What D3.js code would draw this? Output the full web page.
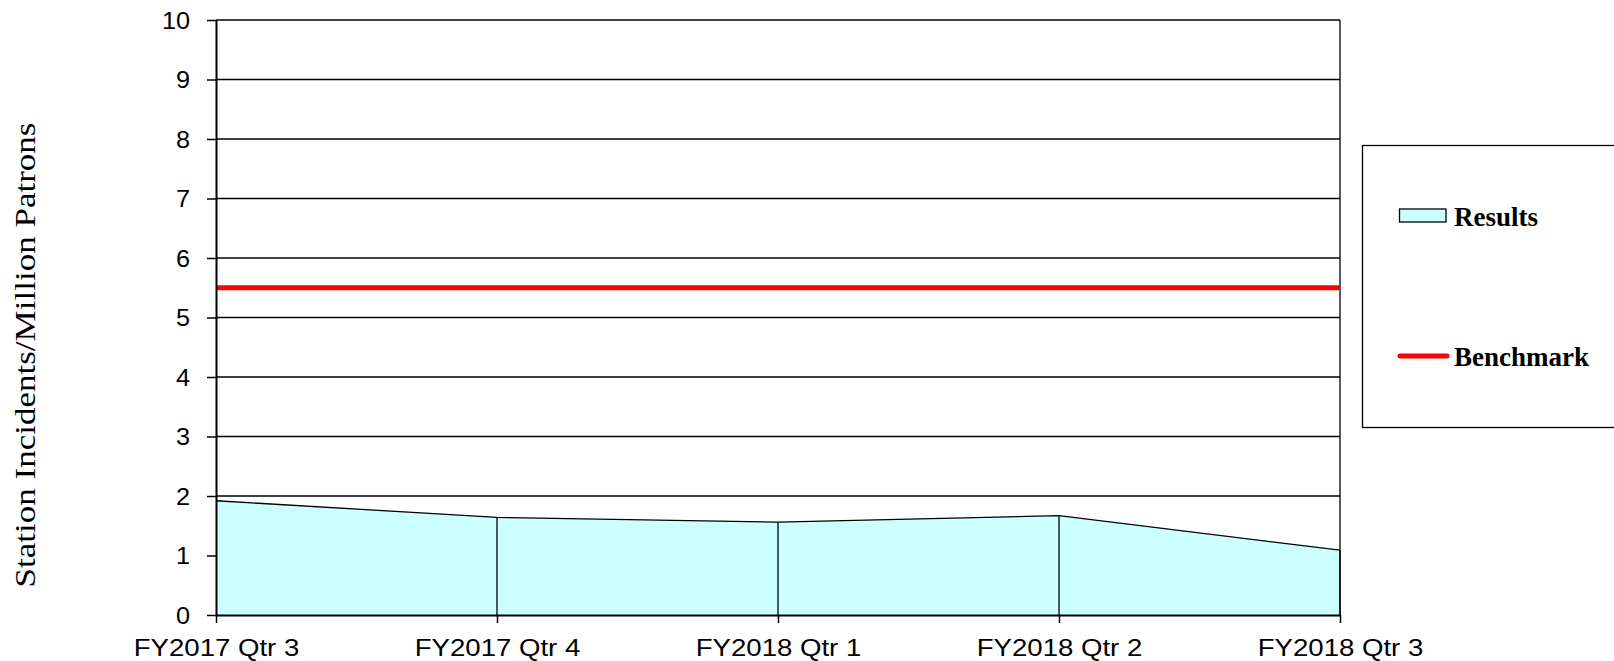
<!DOCTYPE html>
<html>
<head>
<meta charset="utf-8">
<script src="https://cdn.jsdelivr.net/npm/d3@7"></script>
<style>
html,body{margin:0;padding:0;background:#fff;overflow:hidden;}
svg{display:block;}
</style>
</head>
<body>
<svg id="chart" width="1614" height="661"></svg>
<script>
const categories = ["FY2017 Qtr 3","FY2017 Qtr 4","FY2018 Qtr 1","FY2018 Qtr 2","FY2018 Qtr 3"];
const results = [1.92, 1.64, 1.56, 1.67, 1.09];
const benchmark = [5.5, 5.5, 5.5, 5.5, 5.5];
const yTicks = [0,1,2,3,4,5,6,7,8,9,10];
const yTitle = "Station Incidents/Million Patrons";
const legendLabels = ["Results","Benchmark"];

(function(){
const svg = d3.select("#chart");
const pLeft = 216, pRight = 1340, pTop = 20, pBottom = 615;

const x = d3.scalePoint().domain(categories).range([pLeft, pRight]);
const y = d3.scaleLinear().domain([0, 10]).range([pBottom, pTop]);

// gridlines
svg.append("g").selectAll("line").data(yTicks.filter(d => d > 0)).join("line")
  .attr("x1", pLeft).attr("x2", pRight)
  .attr("y1", d => y(d)).attr("y2", d => y(d))
  .attr("stroke", "#000").attr("stroke-width", 1.3);

// area
const data = categories.map((c, i) => ({c, v: results[i]}));
svg.append("path").datum(data)
  .attr("d", d3.area().x(d => x(d.c)).y0(y(0)).y1(d => y(d.v)))
  .attr("fill", "#CCFFFF").attr("stroke", "none");
svg.append("path").datum(data)
  .attr("d", d3.line().x(d => x(d.c)).y(d => y(d.v)))
  .attr("fill", "none").attr("stroke", "#000").attr("stroke-width", 1.3);
// drop lines
svg.append("g").selectAll("line").data(data.slice(1)).join("line")
  .attr("x1", d => x(d.c)).attr("x2", d => x(d.c))
  .attr("y1", d => y(d.v)).attr("y2", y(0))
  .attr("stroke", "#000").attr("stroke-width", 1.3);

// right border
svg.append("line").attr("x1", pRight).attr("x2", pRight).attr("y1", y(10)).attr("y2", y(0))
  .attr("stroke", "#000").attr("stroke-width", 1.3);

// benchmark
const bdata = categories.map((c, i) => ({c, v: benchmark[i]}));
svg.append("path").datum(bdata)
  .attr("d", d3.line().x(d => x(d.c)).y(d => y(d.v)))
  .attr("fill", "none").attr("stroke", "#FF0000").attr("stroke-width", 5);

// y axis
const yAxis = d3.axisLeft(y).tickValues(yTicks).tickSize(9).tickPadding(0).tickSizeOuter(0);
const gy = svg.append("g").attr("transform", `translate(${pLeft},0)`).call(yAxis);
gy.select(".domain").attr("stroke", "#000").attr("stroke-width", 2);
gy.selectAll(".tick line").attr("stroke", "#000").attr("stroke-width", 1.5);
gy.selectAll(".tick text")
  .attr("x", null).attr("dy", null)
  .attr("transform", "translate(-26,8) scale(1.1,1)")
  .attr("font-family", "Liberation Sans, Arial, sans-serif")
  .attr("font-size", 23).attr("fill", "#000").attr("text-anchor", "end");

// x axis
const xAxis = d3.axisBottom(x).tickSize(8).tickPadding(0).tickSizeOuter(0);
const gx = svg.append("g").attr("transform", `translate(0,${pBottom})`).call(xAxis);
gx.select(".domain").attr("stroke", "#000").attr("stroke-width", 2);
gx.selectAll(".tick line").attr("stroke", "#000").attr("stroke-width", 1.5);
gx.selectAll(".tick text")
  .attr("y", null).attr("dy", null)
  .attr("transform", "translate(0,41) scale(1.2,1)")
  .attr("font-family", "Liberation Sans, Arial, sans-serif")
  .attr("font-size", 23).attr("fill", "#000").attr("text-anchor", "middle");

// y title
svg.append("text")
  .attr("transform", "translate(35,355) rotate(-90)")
  .attr("text-anchor", "middle")
  .attr("font-family", "Liberation Serif, Times New Roman, serif")
  .attr("font-size", 30)
  .attr("textLength", 465).attr("lengthAdjust", "spacingAndGlyphs")
  .text(yTitle);

// legend
const lg = svg.append("g");
lg.append("rect").attr("x", 1362.5).attr("y", 145.5).attr("width", 300).attr("height", 282)
  .attr("fill", "#fff").attr("stroke", "#000").attr("stroke-width", 1.3);
lg.append("rect").attr("x", 1399.5).attr("y", 209).attr("width", 46.5).attr("height", 13)
  .attr("fill", "#CCFFFF").attr("stroke", "#000").attr("stroke-width", 1.3);
lg.append("line").attr("x1", 1400).attr("x2", 1447).attr("y1", 356).attr("y2", 356)
  .attr("stroke", "#FF0000").attr("stroke-width", 5).attr("stroke-linecap", "round");
lg.selectAll("text").data(legendLabels).join("text")
  .attr("x", 1454).attr("y", (d, i) => i === 0 ? 225.5 : 366)
  .attr("font-family", "Liberation Serif, Times New Roman, serif")
  .attr("font-weight", "bold").attr("font-size", 27).attr("fill", "#000")
  .text(d => d);
})();
</script>
</body>
</html>
